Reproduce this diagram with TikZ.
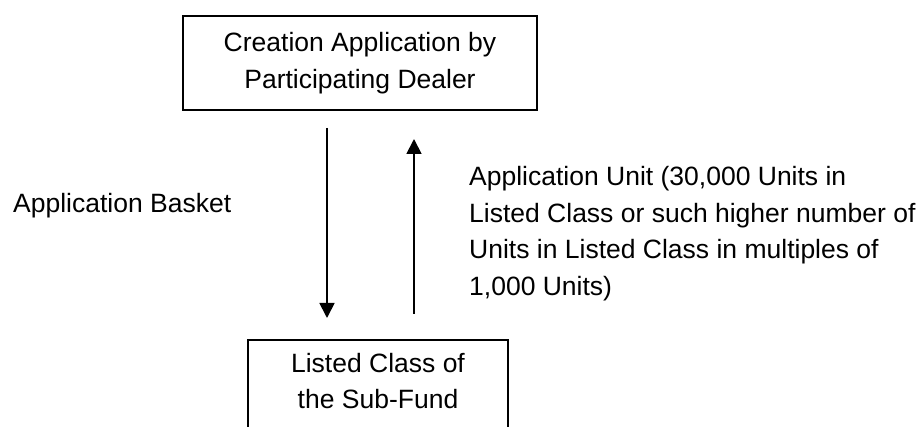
\documentclass[tikz,border=0pt]{standalone}
\usepackage{fontspec}
\setmainfont{Liberation Sans}
\usetikzlibrary{arrows.meta}
\tikzset{
  boxnode/.style={draw=black, line width=2pt, inner sep=0pt, fill=white},
  lbl/.style={inner sep=0pt, font=\fontsize{26.5}{36.6}\selectfont},
  flow/.style={line width=1.8pt, -{Triangle[width=15pt,length=15pt]}}
}
\begin{document}
\begin{tikzpicture}[x=1pt,y=-1pt]
\useasboundingbox (0,0) rectangle (921,427);
\clip (0,0) rectangle (921,427);
% top box
\node[boxnode, lbl, align=center, minimum width=354pt, minimum height=94pt] (dealer) at (360,63)
  {Creation Application by\\Participating Dealer};
% bottom box (cut off by the page edge)
\node[boxnode, minimum width=260pt, minimum height=120pt, anchor=north] (fund) at (378,339) {};
\node[lbl, align=center] (fundtxt) at (378,381) {Listed Class of\\the Sub-Fund};
% arrows
\coordinate (d1) at (327,128);
\coordinate (d2) at (327,318);
\coordinate (u1) at (414,314);
\coordinate (u2) at (414,139);
\draw[flow] (d1) -- (d2);
\draw[flow] (u1) -- (u2);
% labels
\node[lbl, anchor=base west] (basket) at (13,213) {Application Basket};
\node[lbl, align=left, anchor=north west] (unit) at (469,166)
  {Application Unit (30,000 Units in\\Listed Class or such higher number of\\Units in Listed Class in multiples of\\1,000 Units)};
\end{tikzpicture}
\end{document}
